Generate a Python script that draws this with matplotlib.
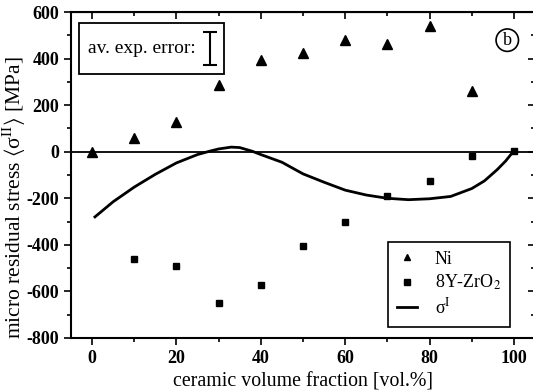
import matplotlib
matplotlib.use("Agg")
import matplotlib.pyplot as plt
from matplotlib.patches import Rectangle

plt.rcParams['font.family'] = ['Liberation Serif', 'DejaVu Serif']
plt.rcParams['mathtext.fontset'] = 'stix'
plt.rcParams['axes.unicode_minus'] = False

# data
vol_frac = [0, 10, 20, 30, 40, 50, 60, 70, 80, 90]
ni_stress = [0, 60, 128, 287, 394, 424, 480, 463, 540, 261]
zr_frac = [10, 20, 30, 40, 50, 60, 70, 80, 90, 100]
zr_stress = [-463, -493, -651, -574, -403, -300, -189, -124, -17, 4]
curve_x = [0.7, 5, 10, 15, 20, 25, 28, 30, 33, 35, 38, 40, 45, 50, 55, 60, 65, 70,
           75, 80, 85, 90, 93, 96, 98, 100]
curve_y = [-280, -215, -152, -97, -48, -12, 3, 12, 20, 18, 2, -12, -45, -95, -131,
           -165, -186, -200, -206, -202, -192, -158, -125, -77, -40, 5]
av_exp_error = 70
err_x, err_y = 28, 443

fig = plt.figure(figsize=(5.33, 3.92), dpi=100)
ax = fig.add_axes([0.133, 0.138, 0.871, 0.831])

ax.axhline(0, color='black', lw=1.3, zorder=1)
ax.plot(curve_x, curve_y, color='black', lw=2.0, label='σ$^{\\mathrm{I}}$', zorder=2)
ax.plot(vol_frac, ni_stress, linestyle='none', marker='^', ms=6.5, color='black', label='Ni', zorder=3)
ax.plot(zr_frac, zr_stress, linestyle='none', marker='s', ms=4.5, color='black', label=r'8Y-ZrO$_2$', zorder=3)

ax.set_xlim(-5, 105)
ax.set_ylim(-800, 600)
ax.set_xticks(range(0, 101, 20))
ax.set_xticks(range(0, 101, 10), minor=True)
ax.set_yticks(range(-800, 601, 200))
ax.set_yticks(range(-800, 601, 100), minor=True)
ax.tick_params(which='both', direction='out', width=1.2, labelsize=13)
ax.tick_params(which='major', length=5)
ax.tick_params(which='minor', length=3)
for lab in ax.get_xticklabels() + ax.get_yticklabels():
    lab.set_fontweight('bold')
for s in ax.spines.values():
    s.set_linewidth(1.5)

top = ax.secondary_xaxis('top')
top.set_xticks(range(0, 101, 20))
top.set_xticks(range(0, 101, 10), minor=True)
top.tick_params(which='both', direction='in', labeltop=False, width=1.2)
top.tick_params(which='major', length=5)
top.tick_params(which='minor', length=3)
right = ax.secondary_yaxis('right')
right.set_yticks(range(-800, 601, 200))
right.set_yticks(range(-800, 601, 100), minor=True)
right.tick_params(which='both', direction='in', labelright=False, width=1.2)
right.tick_params(which='major', length=5)
right.tick_params(which='minor', length=3)

ax.set_xlabel('ceramic volume fraction [vol.%]', fontsize=14.3, labelpad=4)
ax.set_ylabel('micro residual stress $\\langle$σ$^{\\mathrm{II}}$$\\rangle$ [MPa]',
              fontsize=15.5)
ax.yaxis.set_label_coords(-0.093, 0.43)

# error box
ax.add_patch(Rectangle((0.017, 0.81), 0.313, 0.156, transform=ax.transAxes,
                       fill=False, lw=1.3, color='black', zorder=4))
ax.text(0.037, 0.888, 'av. exp. error:', transform=ax.transAxes, fontsize=14,
        va='center', ha='left')
ax.errorbar([err_x], [err_y], yerr=av_exp_error, fmt='none', ecolor='black',
            elinewidth=1.5, capsize=5, capthick=1.5)

# circled b
ax.text(0.94, 0.914, 'b', transform=ax.transAxes, fontsize=13, ha='center', va='center',
        bbox=dict(boxstyle='circle,pad=0.15', fc='white', ec='black', lw=1.2))

leg = ax.legend(handles=[ax.lines[2], ax.lines[3], ax.lines[1]],
                loc='lower right', bbox_to_anchor=(0.946, 0.034), fontsize=13,
                frameon=True, fancybox=False, edgecolor='black', framealpha=1,
                handlelength=1.1, borderpad=0.5, labelspacing=0.3, borderaxespad=0,
                handletextpad=1.0)
leg.get_frame().set_linewidth(1.2)
leg.legend_handles[0].set_markersize(5)
leg.legend_handles[1].set_markersize(4)

fig.savefig('out.png', dpi=100)
